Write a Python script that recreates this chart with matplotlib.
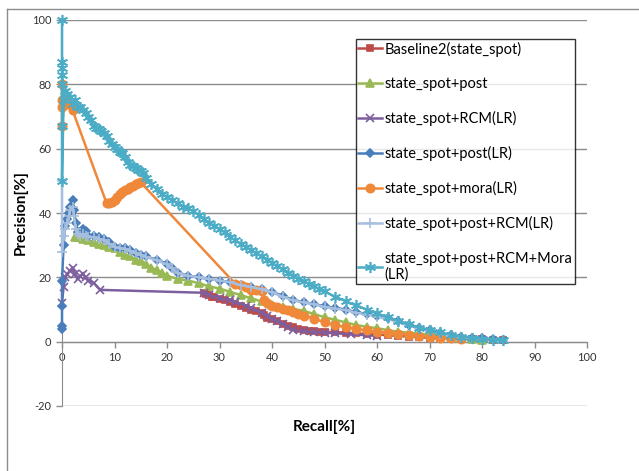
import matplotlib.pyplot as plt
from matplotlib.lines import Line2D

plt.rcParams['font.family'] = ['Lato', 'DejaVu Sans']
plt.rcParams['axes.unicode_minus'] = False

# Baseline2(state_spot)
base_r = [27, 27.5, 28, 28.5, 29, 30, 31, 32, 33, 34, 35, 36, 37, 38, 38.5, 39, 40, 41, 42, 43, 44,
          45, 46, 47, 48, 49, 50, 52, 54, 56, 58, 60, 62, 64, 66, 68, 70, 72, 74, 76, 78, 80, 82, 84]
base_p = [15, 14.8, 14.5, 14, 13.8, 13.2, 12.8, 12.2, 11.8, 11, 10.5, 10, 9.5, 9, 8.2, 7.5, 7, 6.3,
          5.6, 5, 4.5, 4, 3.5, 3.3, 3.2, 3.1, 3, 3, 2.8, 2.6, 2.4, 2.2, 2, 1.8, 1.6, 1.4, 1.2, 1.1,
          1, 0.9, 0.8, 0.7, 0.6, 0.5]

# state_spot+post
post_r = [2.5, 3, 4, 5, 6, 7, 8, 9, 10, 11, 12, 13, 14, 15, 16, 17, 18, 19, 20, 22, 24, 26, 28, 30,
          32, 34, 36, 38, 40, 42, 44, 46, 48, 50, 52, 54, 56, 58, 60, 62, 64, 66, 68, 70, 72, 74,
          76, 78, 80]
post_p = [32.6, 32.5, 32, 31.5, 31, 30.5, 30, 29.5, 29, 28, 27, 26.5, 25.5, 25, 24, 23, 22.3, 21.5,
          20.5, 19.5, 19, 18.2, 17.2, 16.5, 15.5, 14.5, 13.5, 12.5, 11.5, 10.8, 10.2, 9.6, 8.6, 7.6,
          6.8, 6, 5.2, 4.6, 4.2, 3.6, 3.1, 2.8, 2.5, 2.1, 1.9, 1.5, 1.2, 0.9, 0.6]

# state_spot+RCM(LR)
rcm_r = [0, 0.3, 0.6, 1, 1.5, 2, 2.5, 3, 3.5, 4, 4.5, 5, 6, 7.3, 27, 28, 30, 32, 33, 35, 36, 38, 39,
         40, 41, 42, 43, 44, 46, 48, 50, 52, 55, 58, 60]
rcm_p = [12, 17, 20, 21, 22, 23, 21, 19.5, 20.5, 21, 20, 19, 18.3, 16.1, 15.2, 14.5, 13.5, 12.8, 12.4,
         11.2, 10.5, 9, 8, 7, 6.3, 5.5, 4.5, 3.7, 3.2, 3, 2.8, 2.6, 2.3, 2, 1.8]

# state_spot+post(LR)
postlr_r = [0, 0, 0, 0, 0.3, 0.6, 1, 1.3, 1.6, 2, 2.3, 2.6, 3, 3.5, 4, 4.5, 5, 6, 7, 8, 9, 10, 11,
            12, 13, 14, 15, 16, 18, 20, 21, 22, 24, 26, 28, 30, 32, 34, 36, 38, 40, 42, 44, 46, 48,
            50, 52, 54, 56, 58, 60, 62, 64, 66, 68, 70, 72, 74, 76, 78, 80, 82, 84]
postlr_p = [4, 5, 11, 19, 30, 36, 38, 40, 42, 44, 41, 37, 34, 34, 35, 34.5, 33, 33, 32.5, 32, 31,
            29.5, 29, 29, 28.5, 27.5, 27, 26.5, 25.5, 24.3, 23, 21.5, 20.5, 20, 19.5, 19, 18.5, 17.6,
            17, 16.3, 15.5, 14.3, 13, 12.3, 11.7, 11, 10.5, 10, 9.2, 8.6, 8, 7.3, 6.4, 5.2, 4.4, 3.6,
            2.7, 2, 1.5, 1.2, 1, 0.8, 0.6]

# state_spot+mora(LR)
mora_r = [0, 0, 0, 0, 0.5, 1, 2, 8.5, 9, 9.5, 10, 10.5, 11, 11.5, 12, 12.5, 13, 13.5, 14, 14.5, 15,
          33, 34, 35, 36, 37, 38, 38.5, 39, 40, 41, 42, 43, 44, 45, 46, 48, 50, 52, 54, 56, 58, 60,
          62, 64, 66, 68, 70, 72, 74, 76]
mora_p = [80, 75, 73, 67, 76, 74, 72, 43, 43, 43.5, 44, 45, 46, 46.5, 47, 47.5, 48, 48.5, 49, 49.2,
          49.5, 18, 17.5, 17, 16.2, 16, 15.8, 13, 12, 11.2, 10.8, 10.3, 9.8, 9.3, 8.6, 8.1, 7.2, 6,
          5.1, 4.6, 4, 3.5, 3.1, 2.8, 2.5, 2.2, 1.9, 1.5, 1.2, 1, 0.8]

# state_spot+post+RCM(LR)
prcm_r = [0, 0, 0.3, 0.6, 1, 1.3, 1.6, 2, 2.3, 2.6, 3, 3.5, 4, 4.5, 5, 6, 7, 8, 9, 10, 11, 12, 13,
          14, 15, 16, 18, 20, 21, 22, 24, 26, 28, 30, 32, 34, 36, 38, 40, 42, 44, 46, 48, 50, 52,
          54, 56, 58, 60, 62, 64, 66, 68, 70, 72, 74, 76, 78, 80, 82, 84]
prcm_p = [50, 28, 33, 35, 37, 39, 41, 42, 39, 35, 33.5, 33, 33.5, 33, 32.5, 32.5, 32, 31.5, 30.5,
          29.5, 29, 28.8, 28.3, 27.5, 27, 26.3, 25.3, 24, 22.8, 21.3, 20.5, 20, 19.5, 19, 18.5,
          17.6, 17, 16.3, 15.3, 14, 12.8, 12.2, 11.6, 10.8, 10.3, 9.8, 9, 8.4, 7.8, 7, 6.2, 5, 4.2,
          3.4, 2.5, 1.9, 1.4, 1.1, 0.9, 0.7, 0.5]

# state_spot+post+RCM+Mora(LR)
all_r = [0, 0, 0, 0, 0, 0, 0, 0.3, 0.5, 1, 1.5, 2, 2.5, 3, 3.5, 4, 4.5, 5, 5.5, 6, 6.5, 7, 7.5, 8,
         8.5, 9, 9.5, 10, 10.5, 11, 11.5, 12, 12.5, 13, 13.5, 14, 14.5, 15, 15.5, 16, 17, 18, 19, 20,
         21, 22, 23, 24, 25, 26, 27, 28, 29, 30, 31, 32, 33, 34, 35, 36, 37, 38, 39, 40, 41, 42, 43,
         44, 45, 46, 47, 48, 49, 50, 52, 54, 56, 58, 60, 62, 64, 66, 68, 70, 72, 74, 76, 78, 80,
         82, 84]
all_p = [100, 87, 85, 83, 80, 67, 50, 75, 78, 77, 76, 74, 75, 73, 73, 72, 71, 70, 69, 67, 66.5, 66,
         65.5, 65, 64, 62.5, 61.5, 60.5, 60, 59, 58.5, 57.5, 56, 55, 54.5, 54, 53.5, 53, 52.5, 51,
         49, 47.5, 46, 45, 44, 43, 42, 41.5, 40.5, 39.5, 38, 37, 36, 35, 34, 32.5, 31.5, 30.5, 29.5,
         28.5, 27.5, 26.5, 25.5, 24.5, 23.5, 22.5, 21.5, 20.5, 19.6, 18.8, 18, 17.2, 16.4, 15.6,
         14, 12.6, 11.3, 10, 8.8, 7.6, 6.5, 5.4, 4.4, 3.6, 2.9, 2.2, 1.6, 1.2, 0.9, 0.6, 0.4]

series = [
    ("Baseline2(state_spot)", base_r, base_p, "#BE4B48", "s", 5),
    ("state_spot+post", post_r, post_p, "#98B954", "^", 6),
    ("state_spot+RCM(LR)", rcm_r, rcm_p, "#7D5FA0", "x", 6),
    ("state_spot+post(LR)", postlr_r, postlr_p, "#4A7EBB", "D", 4),
    ("state_spot+mora(LR)", mora_r, mora_p, "#F0883A", "o", 6),
    ("state_spot+post+RCM(LR)", prcm_r, prcm_p, "#A7BFDE", "+", 7),
    ("state_spot+post+RCM+Mora\n(LR)", all_r, all_p, "#4BACC6", (6, 2, 0), 8),
]

fig = plt.figure(figsize=(6.39, 4.71), dpi=100)
ax = fig.add_axes([62 / 639, 1 - 406 / 471, 525 / 639, 386 / 471])

for label, r, p, color, marker, ms in series:
    ax.plot(r, p, color=color, lw=1.8, marker=marker, ms=ms, mew=1.2,
            mec=color, mfc=color, label=label, clip_on=False, zorder=3)

ax.set_xlim(0, 100)
ax.set_ylim(-20, 100)
ax.set_xticks(range(0, 101, 10))
ax.set_yticks(range(-20, 101, 20))
ax.yaxis.grid(True, color="#8C8C8C", lw=1)
ax.set_axisbelow(True)

for s in ["top", "right"]:
    ax.spines[s].set_visible(False)
ax.spines["bottom"].set_position(("data", 0))
ax.spines["bottom"].set_color("#8C8C8C")
ax.spines["left"].set_color("#8C8C8C")
ax.tick_params(colors="#8C8C8C", labelcolor="#333333", labelsize=8, length=4, width=1)

ax.set_ylabel("Precision[%]", fontsize=11, fontweight="bold", labelpad=3)
ax.text(0.5, -0.055, "Recall[%]", transform=ax.transAxes, ha="center", va="center",
        fontsize=11, fontweight="bold")

leg = ax.legend(loc="upper left", bbox_to_anchor=(0.56, 0.95), fontsize=10.5,
                frameon=True, fancybox=False, labelspacing=1.38, handlelength=1.6,
                handletextpad=0.2, borderpad=0.15, borderaxespad=0)
leg.get_frame().set_edgecolor("black")
leg.get_frame().set_linewidth(1)

# outer chart border
fig.add_artist(Line2D([7 / 639, 7 / 639], [0, 1 - 9 / 471], color="#8C8C8C", lw=1))
fig.add_artist(Line2D([7 / 639, 1], [1 - 9 / 471, 1 - 9 / 471], color="#8C8C8C", lw=1))

fig.savefig("out.png", dpi=100)
